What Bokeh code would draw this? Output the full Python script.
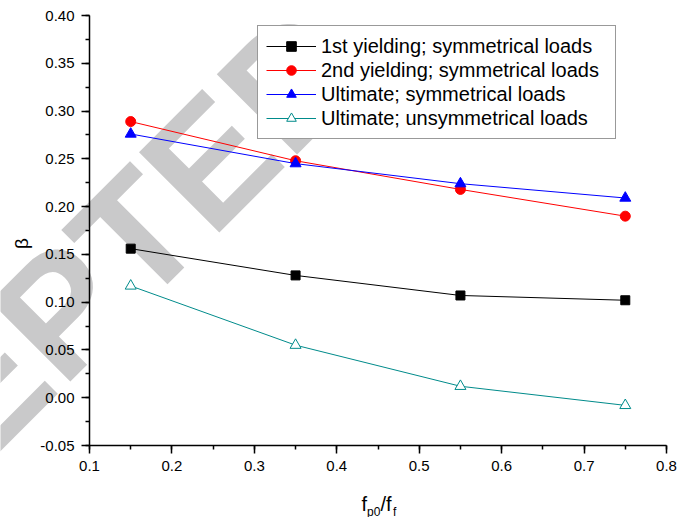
from bokeh.plotting import figure
from bokeh.models import (Range1d, SingleIntervalTicker, PrintfTickFormatter,
                          Label, Legend, LegendItem)
from bokeh.embed import file_html
from bokeh.resources import INLINE

# f_p0 / f_f ratios and the beta coefficient for each load case
ratio = [0.15, 0.35, 0.55, 0.75]
first_yield_sym = [0.156, 0.128, 0.107, 0.102]
second_yield_sym = [0.289, 0.248, 0.218, 0.190]
ultimate_sym = [0.276, 0.245, 0.224, 0.209]
ultimate_unsym = [0.117, 0.055, 0.012, -0.008]

series_labels = ["1st yielding; symmetrical loads",
                 "2nd yielding; symmetrical loads",
                 "Ultimate; symmetrical loads",
                 "Ultimate; unsymmetrical loads"]

X0, X1 = 0.1, 0.8      # axis extents
Y0, Y1 = -0.05, 0.40
W, H = 680, 517
# pixel box of the axes inside the canvas
AX_L, AX_R, AX_T, AX_B = 89, 666, 15, 445
FONT = "Liberation Sans"

# the frame fills the whole canvas; axes sit at fixed positions inside it
sx = (AX_R - AX_L) / (X1 - X0)
sy = (AX_B - AX_T) / (Y1 - Y0)
x_range = Range1d(X0 - AX_L / sx, X1 + (W - AX_R) / sx)
y_range = Range1d(Y0 - (H - AX_B) / sy, Y1 + AX_T / sy)

def dx(px):
    return X0 + (px - AX_L) / sx

def dy(py):
    return Y1 - (py - AX_T) / sy

p = figure(width=W, height=H, x_range=x_range, y_range=y_range,
           output_backend="svg", toolbar_location=None,
           min_border_left=0, min_border_right=0,
           min_border_top=0, min_border_bottom=0)
p.xgrid.visible = False
p.ygrid.visible = False
p.outline_line_color = None
p.background_fill_color = "white"
p.border_fill_color = "white"

# diagonal watermark behind everything
p.add_layout(Label(x=dx(-309), y=dy(679), text="ACCEPTED",
                   angle=45, angle_units="deg", text_font=FONT,
                   text_font_style="bold", text_font_size="165px",
                   text_color="#c9c9ca", text_align="left",
                   text_baseline="alphabetic", level="underlay"))

p.xaxis.fixed_location = Y0
p.xaxis.bounds = (X0, X1)
p.yaxis.fixed_location = X0
p.yaxis.bounds = (Y0, Y1)
for ax, interval, fmt in ((p.xaxis, 0.1, "%.1f"), (p.yaxis, 0.05, "%.2f")):
    ax.ticker = SingleIntervalTicker(interval=interval, num_minor_ticks=2)
    ax.formatter = PrintfTickFormatter(format=fmt)
    ax.axis_line_width = 1.5
    ax.major_tick_line_width = 1.5
    ax.minor_tick_line_width = 1.5
    ax.major_tick_in = 0
    ax.major_tick_out = 8
    ax.minor_tick_in = 0
    ax.minor_tick_out = 4
    ax.major_label_text_font = FONT
    ax.major_label_text_font_size = "15px"
    ax.major_label_text_color = "black"
p.xaxis.major_label_standoff = 7
p.yaxis.major_label_standoff = 7

styles = [
    (first_yield_sym, "black", "square", 9, "black"),
    (second_yield_sym, "red", "circle", 10, "red"),
    (ultimate_sym, "blue", "triangle", 11, "blue"),
    (ultimate_unsym, "#008b8b", "triangle", 11, "white"),
]

items = []
for (vals, col, marker, size, fill), lab in zip(styles, series_labels):
    ln = p.line(ratio, vals, line_color=col, line_width=1)
    sc = p.scatter(ratio, vals, marker=marker, size=size, line_color=col,
                   fill_color=fill, line_width=1)
    items.append(LegendItem(label=lab, renderers=[ln, sc]))

legend = Legend(items=items, location=(257, H - 139), margin=0, padding=8,
                spacing=0, glyph_width=50, glyph_height=24, label_height=24,
                label_width=286, label_standoff=5,
                label_text_font=FONT, label_text_font_size="20px",
                label_text_color="black",
                border_line_color="#333333", border_line_width=1,
                background_fill_color="white", background_fill_alpha=1)
p.add_layout(legend, "center")

# axis titles
p.add_layout(Label(x=dx(21), y=dy(243), text="β", angle=90, angle_units="deg",
                   text_font=FONT, text_font_size="19px", text_color="black",
                   text_align="center", text_baseline="middle"))
for px, py, txt, sz in ((361, 503, "f", "20px"), (366.5, 511, "p0", "12px"),
                        (380, 503, "/f", "20px"), (392.5, 511, "f", "12px")):
    p.add_layout(Label(x=dx(px), y=dy(py), text=txt, text_font=FONT,
                       text_font_size=sz, text_color="black",
                       text_align="left", text_baseline="alphabetic"))

open("out.html", "w").write(file_html(p, INLINE))
